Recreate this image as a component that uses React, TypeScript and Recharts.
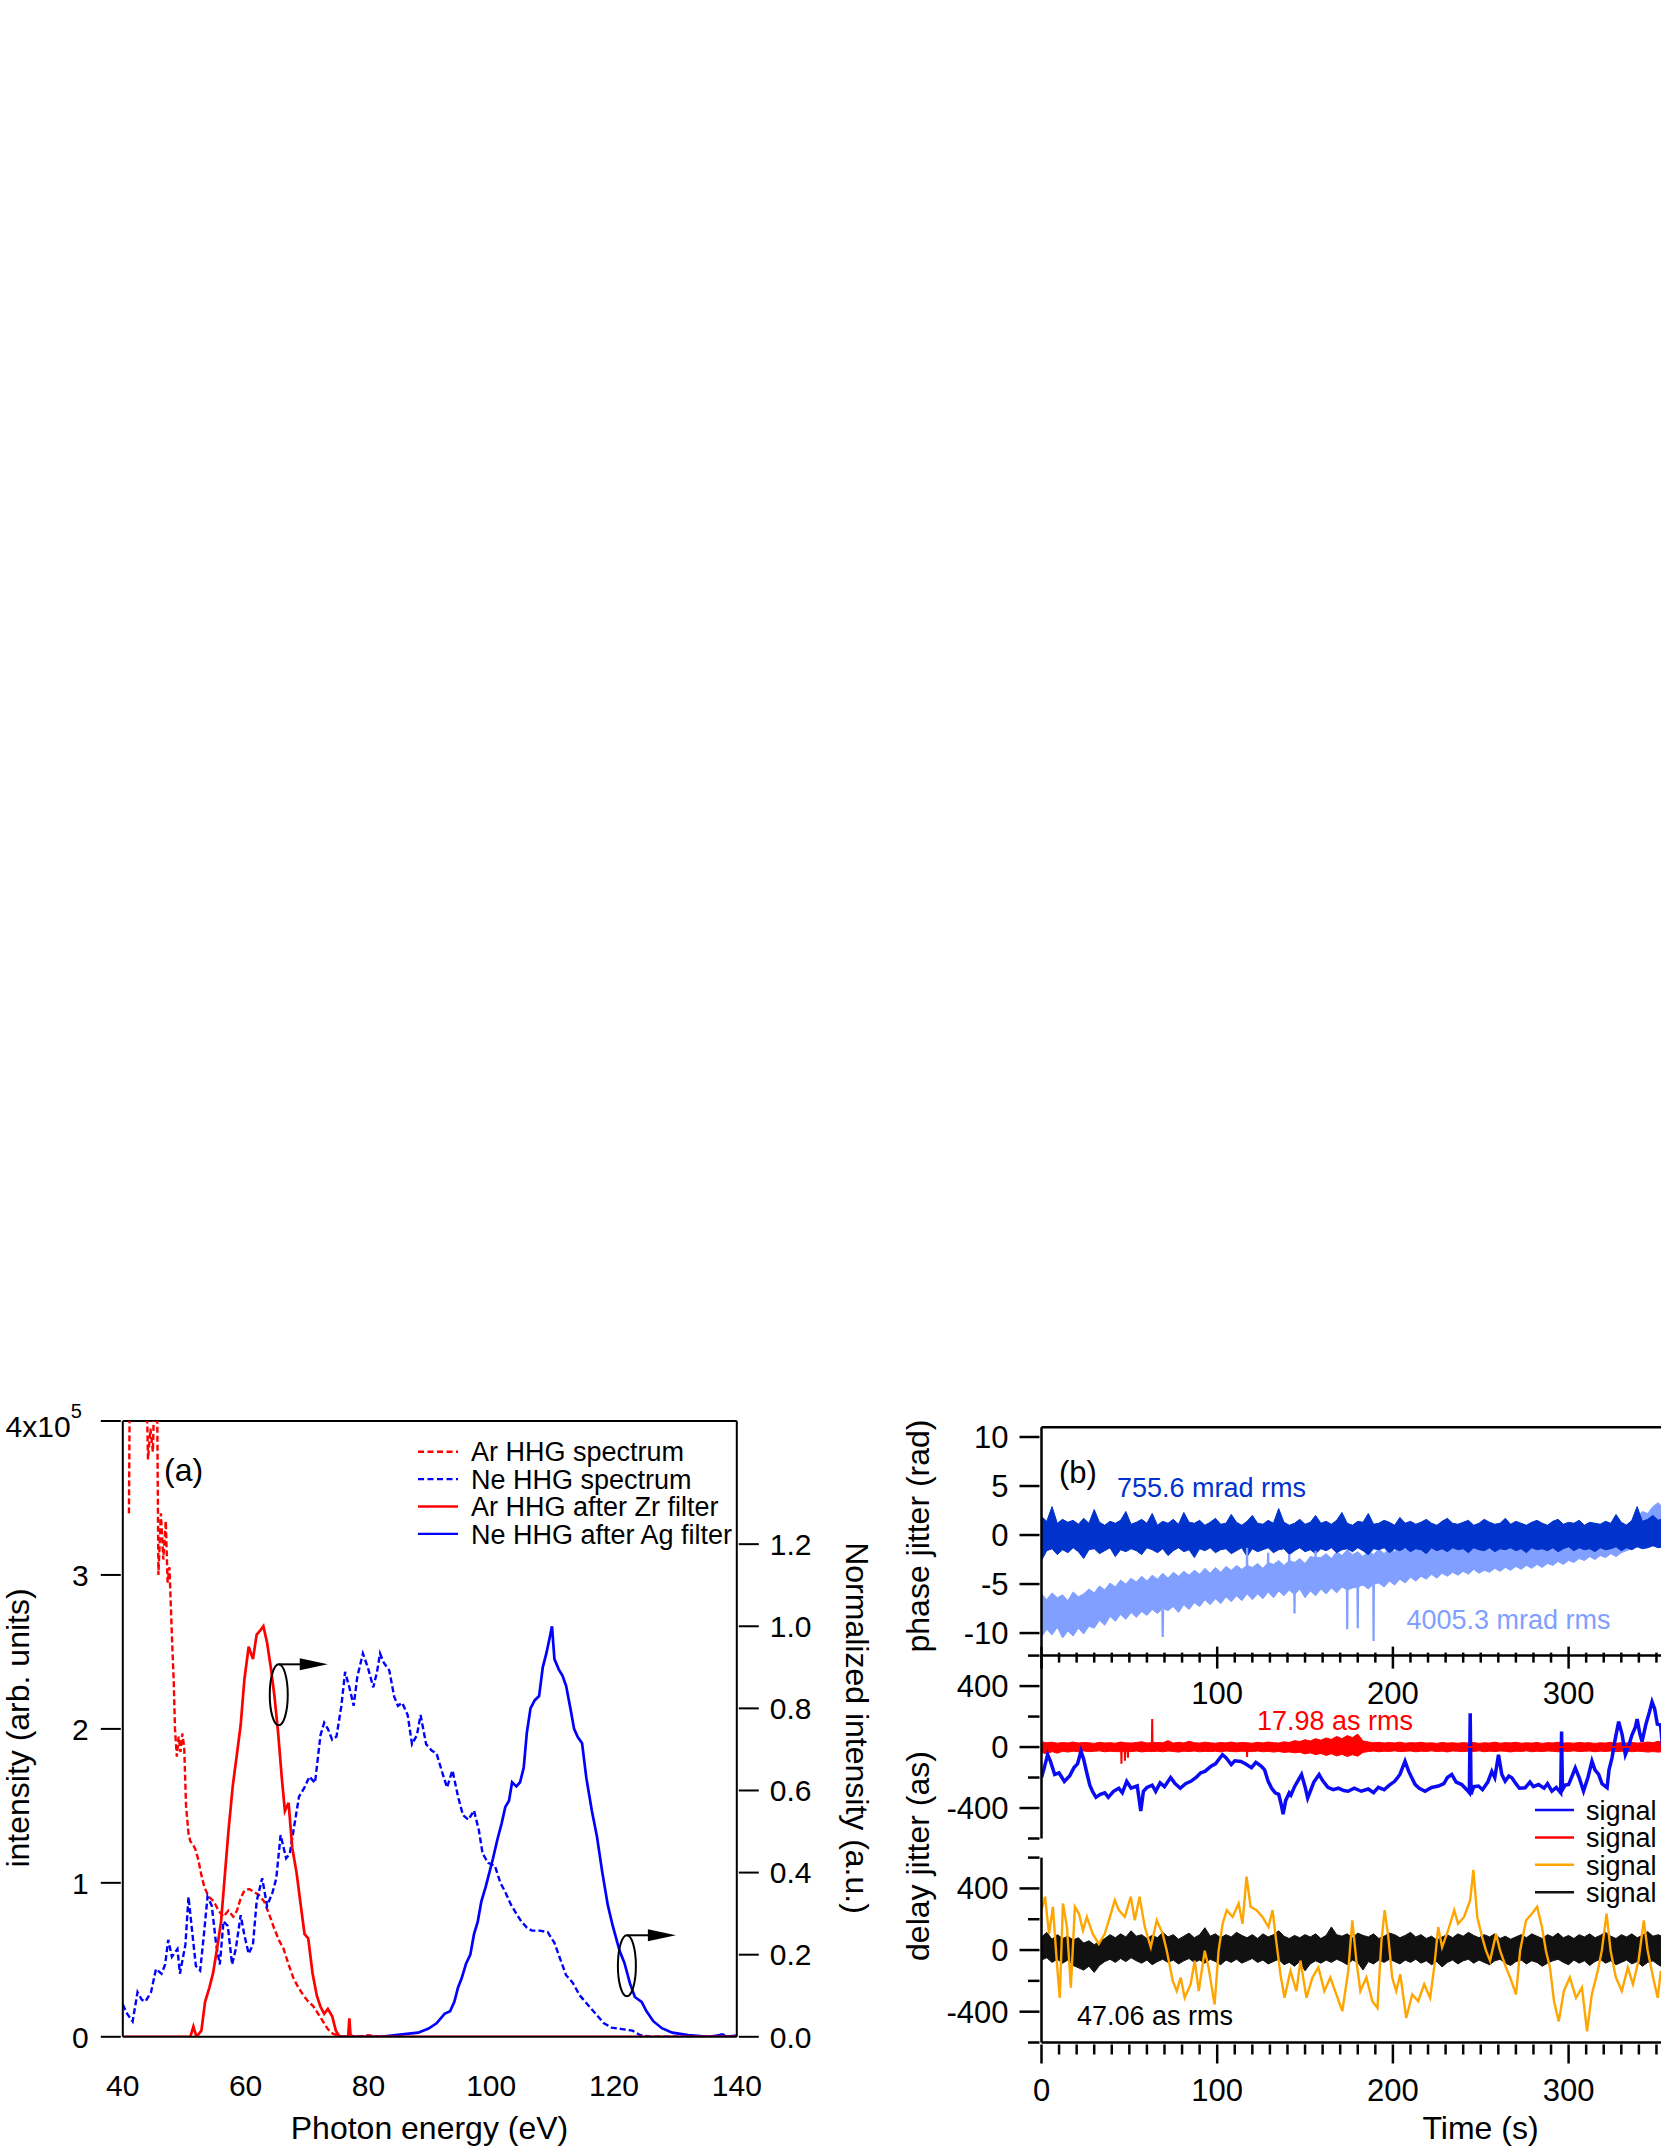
import React from 'react';
import { LineChart, Line, XAxis, YAxis, ComposedChart, Area, ReferenceLine, ReferenceDot } from 'recharts';

const FONT = '"Liberation Sans", Arial, Helvetica, sans-serif';

// ---------- panel (a): spectra, [photon energy eV, value] ----------
const energyTicks = [40, 60, 80, 100, 120, 140];
const intensityTicks = [0, 1, 2, 3, 4]; // x10^5
const normTicks = [0, 0.2, 0.4, 0.6, 0.8, 1.0, 1.2];

// left axis (x10^5 arb. units)
const arSpectrum: [number, number][] = [
  [41, 3.4], [41.2, 4.6], [42.5, 5.2], [43.8, 4.4], [44.1, 3.75], [44.5, 3.95], [44.9, 3.8], [45.2, 4.3],
  [45.6, 4.1], [45.8, 3.0], [46.2, 3.4], [46.6, 3.1], [47.0, 3.35], [47.3, 2.95], [47.6, 3.05], [48.0, 2.6],
  [48.3, 2.3], [48.5, 2.0], [48.8, 1.82], [49.1, 1.95], [49.4, 1.85], [49.7, 1.97], [50.0, 1.88], [50.3, 1.5],
  [50.7, 1.32], [51.0, 1.27], [51.4, 1.25], [51.8, 1.22], [52.3, 1.15], [52.8, 1.05], [53.3, 0.97], [54.0, 0.91],
  [54.8, 0.88], [55.6, 0.82], [56.4, 0.78], [57.2, 0.82], [58.0, 0.78], [58.6, 0.82], [59.2, 0.9], [59.8, 0.95],
  [60.6, 0.96], [61.4, 0.94], [62.2, 0.92], [63.0, 0.88], [63.8, 0.8], [64.6, 0.71], [65.4, 0.63], [66.2, 0.57],
  [67.0, 0.47], [67.8, 0.38], [68.6, 0.32], [69.4, 0.27], [70.2, 0.23], [71.0, 0.2], [71.8, 0.15], [72.6, 0.1],
  [73.4, 0.05], [74.2, 0.02], [75.0, 0.01], [76.0, 0.0], [77.0, 0.01], [78.0, 0.0], [80.0, 0.01], [82.0, 0.0],
];

const neSpectrum: [number, number][] = [
  [40, 0.21], [40.7, 0.15], [41.6, 0.1], [42.4, 0.29], [43.1, 0.24], [43.7, 0.23], [44.6, 0.29], [45.4, 0.44],
  [46.3, 0.41], [46.9, 0.47], [47.4, 0.63], [48, 0.52], [48.9, 0.57], [49.3, 0.41], [50.2, 0.6], [50.7, 0.91],
  [51.2, 0.72], [51.9, 0.46], [52.6, 0.43], [53.2, 0.66], [53.8, 0.91], [54.5, 0.85], [55.2, 0.6], [55.8, 0.47],
  [56.4, 0.75], [57.1, 0.72], [57.8, 0.47], [58.4, 0.57], [59.2, 0.79], [59.8, 0.66], [60.5, 0.54], [61.2, 0.6],
  [61.8, 0.88], [62.7, 1.03], [63.5, 0.85], [64.4, 0.94], [65, 1.03], [65.7, 1.31], [66.6, 1.16], [67.2, 1.19],
  [67.8, 1.34], [68.7, 1.56], [69.6, 1.62], [70.4, 1.69], [71.3, 1.65], [72.2, 1.96], [72.8, 2.04], [73.4, 2.0],
  [74.1, 1.93], [74.8, 1.95], [75.6, 2.15], [76.2, 2.37], [76.9, 2.27], [77.6, 2.15], [78.2, 2.34], [79.1, 2.49],
  [79.9, 2.4], [80.8, 2.27], [81.4, 2.37], [81.9, 2.49], [82.5, 2.43], [83.4, 2.38], [84.2, 2.21], [84.8, 2.15],
  [85.5, 2.17], [86.4, 2.09], [87.1, 1.9], [87.9, 1.96], [88.5, 2.09], [89.4, 1.9], [90.3, 1.86], [91.1, 1.84],
  [92, 1.72], [92.8, 1.62], [93.7, 1.73], [94.6, 1.56], [95.4, 1.44], [96.3, 1.41], [97.2, 1.47], [98, 1.34],
  [98.6, 1.19], [99.5, 1.13], [100.6, 1.11], [101.5, 1.0], [102.3, 0.94], [103.2, 0.86], [104.1, 0.8], [104.9, 0.75],
  [105.8, 0.71], [106.6, 0.69], [107.9, 0.69], [109.2, 0.68], [110.3, 0.61], [111.2, 0.51], [112.2, 0.4], [113.3, 0.35],
  [114.4, 0.27], [115.7, 0.21], [117, 0.15], [118.3, 0.09], [119.6, 0.06], [121.3, 0.05], [123, 0.04], [124.3, 0.01],
  [126, 0], [136, 0], [137.5, 0.015], [138.5, 0], [140, 0.005],
];

// right axis (normalized)
const arZrFilter: [number, number][] = [
  [40, 0], [51, 0], [51.5, 0.025], [52, 0.0], [52.8, 0.015], [53.4, 0.085], [54.1, 0.12], [54.7, 0.155],
  [55.3, 0.21], [56, 0.28], [56.6, 0.39], [57.2, 0.5], [57.9, 0.61], [58.6, 0.69], [59.2, 0.76], [59.8, 0.87],
  [60.5, 0.95], [61.2, 0.92], [61.8, 0.98], [62.4, 0.99], [62.9, 1.0], [63.5, 0.96], [64.1, 0.9], [64.7, 0.83],
  [65.3, 0.74], [65.9, 0.63], [66.4, 0.55], [67, 0.57], [67.6, 0.46], [68.3, 0.4], [68.9, 0.33], [69.6, 0.25],
  [70.2, 0.24], [70.9, 0.155], [71.6, 0.1], [72.2, 0.073], [72.8, 0.056], [73.4, 0.068], [74.1, 0.05], [74.7, 0.015],
  [75.3, 0], [76.7, 0], [76.9, 0.045], [77.1, 0], [140, 0],
];

const neAgFilter: [number, number][] = [
  [75, 0], [82, 0], [85.5, 0.006], [88.1, 0.01], [89.8, 0.02], [91.1, 0.033], [92.4, 0.056], [93.3, 0.062],
  [94, 0.085], [94.6, 0.12], [95.2, 0.143], [95.9, 0.178], [96.6, 0.2], [97.2, 0.25], [97.8, 0.28], [98.4, 0.33],
  [99.1, 0.365], [99.7, 0.4], [100.3, 0.435], [101, 0.48], [101.7, 0.52], [102.3, 0.56], [102.9, 0.575], [103.4, 0.62],
  [104.1, 0.61], [104.7, 0.62], [105.3, 0.656], [105.8, 0.74], [106.4, 0.8], [107.1, 0.82], [107.8, 0.83], [108.4, 0.9],
  [109, 0.935], [109.5, 0.97], [109.9, 1.0], [110.3, 0.92], [111, 0.895], [111.6, 0.88], [112.2, 0.855], [112.9, 0.8],
  [113.5, 0.75], [114.1, 0.73], [114.8, 0.715], [115.5, 0.63], [116.4, 0.55], [117.2, 0.49], [118.1, 0.4], [119, 0.32],
  [119.8, 0.27], [120.9, 0.21], [121.7, 0.18], [122.6, 0.13], [123.4, 0.097], [124.5, 0.085], [125.3, 0.062], [126.4, 0.038],
  [127.8, 0.021], [129.5, 0.01], [132.1, 0.004], [135.5, 0], [137.8, 0.005], [138.2, 0], [140, 0.003],
];

const legendA = [
  { name: 'Ar HHG spectrum', color: '#ff0000', dashed: true },
  { name: 'Ne HHG spectrum', color: '#0000ff', dashed: true },
  { name: 'Ar HHG after Zr filter', color: '#ff0000', dashed: false },
  { name: 'Ne HHG after Ag filter', color: '#0000ff', dashed: false },
];

// ---------- panel (b): jitter vs time ----------
const timeTicks = [0, 10, 20, 30, 40, 50, 60, 70, 80, 90, 100, 110, 120, 130, 140, 150, 160, 170, 180, 190, 200,
  210, 220, 230, 240, 250, 260, 270, 280, 290, 300, 310, 320, 330, 340, 350, 360, 370, 380, 390, 400];
const phaseTicks = [-10, -5, 0, 5, 10];
const delayTicks = [-600, -400, -200, 0, 200, 400, 600];

// noise bands sampled every 3 s (0..360 s): lower / upper envelope
const GRID_STEP = 3;

const darkHi = [
  1.9, 1.4, 2.9, 1.2, 1.6, 1.3, 1.5, 1.1, 1.7, 1.2,
  2.6, 1.3, 1.0, 1.4, 1.2, 1.5, 2.4, 1.1, 1.3, 1.6,
  1.2, 2.2, 1.0, 1.4, 1.2, 1.6, 1.1, 2.3, 1.3, 1.2,
  1.5, 1.0, 1.3, 1.7, 1.1, 1.2, 2.1, 1.3, 1.0, 1.4,
  2.0, 1.2, 1.1, 1.5, 1.2, 2.7, 1.3, 1.0, 1.2, 1.6,
  1.1, 1.3, 2.0, 1.2, 1.4, 1.1, 1.5, 2.3, 1.2, 1.0,
  1.4, 1.3, 2.2, 1.1, 1.2, 1.5, 1.3, 1.0, 1.8, 1.2,
  1.4, 1.1, 1.3, 1.6, 1.2, 1.0, 1.4, 1.7, 1.2, 1.1,
  1.3, 1.5, 1.0, 1.2, 1.6, 1.3, 1.1, 1.2, 1.7, 1.1,
  1.4, 1.2, 1.0, 1.3, 1.5, 1.2, 1.0, 1.4, 1.6, 1.1,
  1.3, 1.2, 1.5, 1.0, 1.3, 1.2, 1.1, 1.4, 1.2, 2.1,
  1.3, 1.0, 1.5, 2.9, 1.4, 1.6, 2.0, 1.5, 1.7, 1.4,
  1.6,
];
const darkLo = [
  -2.6, -1.6, -1.4, -2.0, -1.5, -1.8, -1.3, -1.7, -2.4, -1.5,
  -1.4, -1.9, -1.6, -1.3, -2.2, -1.5, -1.7, -1.4, -1.6, -2.0,
  -1.3, -1.5, -1.8, -1.4, -2.1, -1.6, -1.3, -1.7, -1.5, -2.3,
  -1.4, -1.6, -1.3, -1.8, -1.5, -1.4, -1.9, -1.6, -1.3, -2.2,
  -1.4, -1.7, -1.5, -1.3, -1.8, -1.5, -1.4, -2.0, -1.6, -1.3,
  -1.7, -1.5, -1.9, -1.4, -1.6, -1.3, -1.8, -1.5, -1.4, -1.7,
  -1.3, -1.6, -2.0, -1.4, -1.5, -1.3, -1.8, -1.4, -1.6, -1.3,
  -1.7, -1.4, -1.5, -1.9, -1.3, -1.6, -1.4, -1.7, -1.3, -1.5,
  -1.4, -1.8, -1.3, -1.5, -1.6, -1.3, -1.7, -1.4, -1.5, -1.3,
  -1.6, -1.4, -1.8, -1.3, -1.5, -1.4, -1.6, -1.3, -1.7, -1.4,
  -1.2, -1.6, -1.3, -1.5, -1.4, -1.7, -1.3, -1.5, -1.4, -1.2,
  -1.6, -1.3, -1.5, -1.2, -1.4, -1.3, -1.1, -1.3, -1.2, -3.2,
  -1.4,
];
const lightHi = [
  -6.0, -6.6, -5.9, -6.4, -6.1, -6.7, -5.8, -6.3, -6.0, -5.5,
  -5.9, -5.2, -5.6, -4.9, -5.3, -4.6, -5.0, -4.4, -4.8, -4.2,
  -4.7, -4.1, -4.5, -3.9, -4.4, -3.8, -4.2, -3.7, -4.1, -3.6,
  -4.0, -3.4, -3.9, -3.3, -3.8, -3.2, -3.6, -3.1, -3.5, -3.1,
  -3.3, -2.9, -3.4, -2.8, -3.0, -2.6, -3.1, -2.6, -2.8, -2.4,
  -2.9, -2.2, -2.3, -2.3, -1.9, -2.4, -1.7, -2.1, -1.5, -2.0,
  -1.7, -2.2, -1.6, -2.0, -1.4, -1.9, -1.3, -1.7, -1.1, -1.5,
  -1.0, -1.4, -0.8, -1.2, -0.7, -1.1, -0.6, -1.0, -0.5, -0.9,
  -0.4, -0.8, -0.5, -0.9, -0.4, -0.7, -0.3, -0.8, -0.4, -0.7,
  -0.2, -0.6, -0.3, -0.7, -0.2, -0.5, -0.1, -0.4, -0.2, -0.5,
  0.0, -0.3, -0.1, 0.2, -0.2, 0.3, 0.0, 0.4, 0.1, 0.6,
  0.6, 1.1, 1.4, 1.9, 2.4, 2.2, 2.9, 3.3, 2.7, 3.0,
  2.8,
];
const lightLo = [
  -10.4, -9.6, -10.2, -9.4, -10.5, -9.8, -10.3, -9.5, -10.1, -9.3,
  -9.5, -8.7, -9.2, -8.3, -8.8, -8.1, -8.6, -7.9, -8.4, -7.8,
  -8.2, -7.6, -8.0, -7.5, -7.7, -7.3, -7.9, -7.1, -7.6, -6.9,
  -7.3, -6.6, -7.1, -6.5, -7.0, -6.3, -6.8, -6.2, -6.7, -6.0,
  -6.6, -6.0, -6.5, -5.8, -6.4, -5.7, -6.2, -5.6, -6.1, -5.5,
  -6.4, -5.7, -6.2, -5.5, -6.0, -5.4, -5.9, -5.3, -5.6, -5.4,
  -5.3, -5.1, -5.5, -5.0, -4.9, -5.3, -4.7, -5.1, -4.5, -4.9,
  -4.3, -4.7, -4.2, -4.5, -4.0, -4.4, -3.9, -4.2, -3.8, -4.1,
  -3.7, -4.0, -3.5, -3.9, -3.6, -3.8, -3.4, -3.7, -3.3, -3.6,
  -3.2, -3.5, -3.1, -3.4, -3.0, -3.3, -2.9, -3.1, -2.7, -3.0,
  -2.6, -2.8, -2.4, -2.6, -2.2, -2.5, -2.1, -2.3, -1.9, -2.2,
  -1.8, -1.6, -1.4, -1.0, -0.6, -0.9, -0.2, 0.4, 0.1, 0.5,
  0.3,
];
// single-sample glitches of the light trace: [time s, phase rad]; null breaks the line
const lightGlitches: [number, number | null][] = [
  [68.8, -7.6], [69, -10.4], [69.2, -7.6], [69.3, null],
  [116.8, -4.2], [117, -1.3], [117.2, -4.2], [117.3, null],
  [128.8, -4.0], [129, -1.8], [129.2, -4.0], [129.3, null],
  [140.8, -3.8], [141, -2.0], [141.2, -3.8], [141.3, null],
  [143.8, -4.4], [144, -8.0], [144.2, -4.4], [144.3, null],
  [155.8, -3.6], [156, -1.6], [156.2, -3.6], [156.3, null],
  [173.8, -4.0], [174, -9.6], [174.2, -4.0], [174.3, null],
  [179.8, -3.8], [180, -9.5], [180.2, -3.8], [180.3, null],
  [188.8, -3.4], [189, -10.8], [189.2, -3.4],
];

const redHi = [
  35, 28, 32, 25, 30, 27, 33, 26, 30, 28,
  24, 31, 27, 29, 25, 33, 28, 26, 30, 35,
  27, 29, 30, 28, 42, 26, 31, 27, 38, 29,
  26, 32, 28, 25, 30, 27, 33, 26, 30, 28,
  25, 31, 27, 33, 29, 26, 34, 30, 42, 36,
  48, 40, 55, 45, 60, 50, 70, 55, 75, 62,
  85, 40, 33, 28, 31, 26, 30, 27, 32, 25,
  29, 27, 31, 26, 28, 24, 30, 26, 28, 25,
  29, 26, 30, 24, 28, 26, 32, 25, 29, 27,
  31, 25, 28, 26, 30, 24, 29, 27, 31, 26,
  28, 25, 30, 27, 29, 24, 28, 26, 31, 25,
  29, 27, 30, 26, 28, 33, 29, 38, 32, 30,
  34,
];
const redLo = [
  -35, -45, -30, -40, -28, -33, -27, -31, -26, -30,
  -28, -25, -31, -27, -30, -30, -27, -30, -26, -32,
  -28, -30, -27, -31, -26, -29, -33, -27, -30, -26,
  -31, -28, -30, -27, -32, -26, -29, -31, -27, -29,
  -30, -26, -31, -28, -33, -29, -35, -32, -38, -34,
  -45, -38, -50, -42, -55, -44, -58, -48, -62, -50,
  -60, -35, -30, -26, -31, -27, -29, -25, -30, -28,
  -26, -31, -27, -29, -25, -30, -27, -32, -26, -28,
  -30, -27, -29, -25, -31, -27, -30, -26, -28, -32,
  -27, -29, -25, -31, -27, -30, -26, -28, -31, -27,
  -29, -25, -30, -28, -26, -31, -27, -29, -26, -30,
  -28, -25, -31, -27, -29, -33, -30, -33, -30, -40,
  -35,
];
// single-sample glitches of the red trace: [time s, delay as]
const redGlitches: [number, number][] = [
  [45.3, 0], [45.5, -110], [45.7, 0], [47.3, 0], [47.5, -90], [47.7, 0], [49.0, 0], [49.2, -70], [49.4, 0],
  [62.8, 0], [63, 184], [63.2, 0], [116.8, 0], [117, -65], [117.2, 0], [353.8, 0], [354, -110], [354.2, 0],
];

const blackHi = [
  85, 115, 70, 100, 75, 90, 65, 80, 45, 60,
  35, 55, 75, 100, 80, 105, 85, 125, 90, 100,
  75, 95, 80, 115, 85, 100, 70, 90, 110, 80,
  100, 145, 90, 105, 80, 100, 85, 115, 95, 80,
  100, 75, 105, 85, 100, 125, 90, 75, 95, 80,
  100, 85, 105, 75, 95, 150, 100, 90, 105, 80,
  110, 95, 85, 105, 75, 90, 110, 100, 80, 95,
  115, 85, 100, 75, 90, 65, 85, 100, 80, 105,
  90, 115, 95, 80, 100, 85, 105, 75, 90, 70,
  85, 100, 80, 105, 90, 75, 100, 85, 110, 80,
  95, 75, 100, 85, 105, 80, 95, 115, 90, 75,
  100, 85, 105, 80, 95, 120, 90, 100, 85, 105,
  90,
];
const blackLo = [
  -65, -50, -80, -60, -85, -65, -100, -115, -130, -105,
  -145, -100, -75, -60, -80, -55, -75, -50, -70, -85,
  -65, -95, -75, -60, -80, -65, -90, -70, -55, -80,
  -65, -85, -60, -75, -95, -65, -80, -60, -85, -70,
  -55, -80, -65, -90, -75, -60, -95, -80, -105, -75,
  -135, -90, -70, -85, -65, -80, -60, -75, -95, -65,
  -80, -130, -75, -90, -65, -80, -60, -75, -90, -65,
  -80, -60, -85, -70, -95, -75, -110, -80, -65, -90,
  -70, -60, -85, -65, -80, -95, -70, -60, -85, -100,
  -75, -65, -90, -70, -80, -105, -85, -70, -60, -80,
  -95, -65, -85, -70, -100, -75, -60, -85, -70, -95,
  -80, -65, -90, -75, -105, -80, -70, -95, -115, -85,
  -75,
];

// [time s, delay as]
const blueDelay: [number, number][] = [
  [0, -200], [1.5, -140], [3.5, -50], [5, -90], [7.5, -180], [10, -170], [13, -225], [16, -190], [18.5, -135],
  [20.5, -110], [22.5, -28], [24, -80], [26, -180], [27.5, -250], [29, -290], [31, -330], [33.5, -310], [36, -300],
  [38, -330], [41, -290], [44, -270], [46, -300], [48.5, -225], [51, -270], [54.5, -255], [56.5, -420], [58, -290],
  [60, -265], [63, -250], [65, -290], [67.5, -235], [70, -260], [73.5, -200], [76, -240], [79, -270], [82, -240],
  [85, -225], [88, -200], [90.5, -170], [93, -160], [96.5, -125], [99, -110], [101, -80], [103, -50], [105, -70],
  [108, -115], [110, -90], [113.5, -95], [116, -110], [119.5, -135], [122, -100], [125, -125], [127, -150],
  [129, -225], [131, -270], [133, -300], [135, -310], [136.5, -380], [137.5, -440], [139, -350], [141, -300],
  [142, -315], [144, -260], [146, -220], [148, -180], [150, -260], [151.5, -335], [153, -290], [155, -230],
  [158, -180], [160, -220], [163, -265], [166, -280], [169, -270], [172, -285], [174.5, -290], [178, -270],
  [182, -290], [186, -275], [189, -300], [191.7, -265], [195, -280], [198, -250], [201, -225], [204, -180],
  [206.9, -93], [209, -160], [212.6, -245], [215, -270], [218.3, -290], [222, -265], [225.9, -256], [229, -240],
  [231, -200], [233.5, -180], [236, -230], [239.2, -246], [242, -280], [243.5, -300], [244, 221], [244.5, -310],
  [246, -260], [248.7, -256], [251, -280], [254, -230], [256.3, -160], [258, -200], [260.1, -50], [262, -180],
  [263.9, -224], [266, -190], [267.7, -202], [270, -240], [272, -270], [275.3, -267], [278, -230], [280, -260],
  [282.9, -246], [286, -270], [288, -240], [290.5, -289], [293, -265], [295.5, -300], [296, 102], [296.5, -280],
  [298, -250], [300, -246], [302, -190], [303.8, -137], [306, -200], [308.5, -289], [311, -200], [313.3, -93],
  [315, -150], [317.1, -180], [319, -240], [321.9, -267], [323, -150], [324.7, -71], [326.5, 50], [328.5, 167],
  [330.5, 80], [332.3, -50], [334, 0], [336.1, 80], [338, 130], [339, 184], [340.5, 90], [341.8, 36], [344, 150],
  [346, 230], [347.5, 297], [349, 250], [350.5, 150], [352.3, 145], [354, -60], [356, -150], [358, -120], [360, -100],
];

const orangeDelay: [number, number][] = [
  [0, 259], [2, 346], [4.3, 105], [6.5, 281], [8.8, -91], [10.4, -310], [12.2, 302], [14.5, 149], [16.7, -244],
  [19, 281], [21.3, 237], [23.6, 127], [25.8, 215], [29.2, 105], [32.6, 40], [36, 105], [39.5, 237], [41.7, 324],
  [44, 259], [47.4, 215], [50.8, 346], [53.1, 193], [55.8, 346], [58.8, 149], [62.2, 18], [65.6, 193], [69, 105],
  [71.3, -4], [74.7, -200], [77, -266], [79.2, -178], [81.5, -310], [84.9, -222], [87.2, -69], [89.5, -266],
  [92.9, -4], [95.1, -113], [98.5, -354], [100.8, -4], [103.1, 171], [105.4, 259], [108.8, 215], [112.2, 302],
  [114.4, 171], [116.7, 477], [119, 281], [122.4, 259], [125.8, 215], [129.2, 149], [131.5, 259], [133.8, 40],
  [136, -157], [138.3, -310], [141.7, -135], [145.1, -266], [147.4, -69], [150.8, -310], [154.2, -178],
  [157.6, -113], [161, -266], [164.4, -178], [167.8, -288], [171.2, -397], [174.6, -135], [176.9, 193],
  [179.2, -69], [181.5, -266], [184.9, -178], [188.3, -332], [191.2, -376], [193.5, 62], [195.3, 259], [197.4, 84],
  [199.6, -178], [201.9, -266], [204.2, -157], [207.6, -441], [211, -288], [214.4, -332], [217.8, -222],
  [221.2, -310], [223.5, -113], [225.8, 149], [228, 18], [231.4, 127], [234.9, 259], [237.1, 171], [240.5, 215],
  [244, 324], [245.8, 521], [248, 215], [250.8, 84], [253, -4], [255.3, -69], [258.7, 105], [261, -4], [264.4, -113],
  [266.7, -178], [270.1, -288], [272.4, -4], [275.8, 193], [279.2, 237], [282.1, 281], [284.8, 149], [287.1, -4],
  [289.4, -113], [291.7, -332], [294.4, -463], [297.3, -266], [300.7, -178], [304.2, -310], [307.6, -244],
  [310.5, -528], [313.2, -288], [316.6, -135], [318.9, -4], [321.6, 237], [323.9, -4], [326.9, -178], [330.3, -266],
  [333.7, -113], [336.6, -222], [339.8, -69], [342.8, 193], [345, -4], [348.5, -200], [350.7, -310], [352.5, -135],
  [355, -250], [358, -100], [360, -180],
];

const legendB = [
  { name: 'signal', color: '#0a0af5' },
  { name: 'signal', color: '#ff0000' },
  { name: 'signal', color: '#ffa500' },
  { name: 'signal', color: '#111111' },
];

// build series for recharts
const toXY = (pts: [number, number][]) => pts.map(([x, y]) => ({ x, y }));
const toTV = (pts: [number, number | null][]) => pts.map(([t, v]) => ({ t, v }));

const phaseData = darkHi.map((h, i) => ({
  t: i * GRID_STEP,
  dark: [darkLo[i], h],
  light: [lightLo[i], lightHi[i]],
}));
const redData = redHi.map((h, i) => ({ t: i * GRID_STEP, red: [redLo[i], h] }));
const blackData = blackHi.map((h, i) => ({ t: i * GRID_STEP, black: [blackLo[i], h] }));

// ---------- tick renderers ----------
const txt = (size: number) => ({ fontFamily: FONT, fontSize: size, fill: '#000' });

function IntensityTick({ x, y, payload }: any) {
  const v = payload.value;
  return (
    <g>
      <line x1={x - 20} x2={x} y1={y} y2={y} stroke="#000" strokeWidth={2} />
      {v === 4 ? (
        <text x={x - 39} y={y + 16} textAnchor="end" {...txt(30)}>
          4x10<tspan dy={-19} fontSize={20}>5</tspan>
        </text>
      ) : (
        <text x={x - 32} y={y + 10.8} textAnchor="end" {...txt(30)}>{v}</text>
      )}
    </g>
  );
}

function NormTick({ x, y, payload }: any) {
  return (
    <g>
      <line x1={x} x2={x + 20} y1={y} y2={y} stroke="#000" strokeWidth={2} />
      <text x={x + 31} y={y + 10.8} textAnchor="start" {...txt(30)}>{payload.value.toFixed(1)}</text>
    </g>
  );
}

function EnergyTick({ x, y, payload }: any) {
  return (
    <text x={x} y={y + 57} textAnchor="middle" {...txt(30)}>{payload.value}</text>
  );
}

function PhaseTick({ x, y, payload }: any) {
  return (
    <g>
      <line x1={x - 20} x2={x} y1={y} y2={y} stroke="#000" strokeWidth={2.5} />
      <text x={x - 31} y={y + 11} textAnchor="end" {...txt(31)}>{payload.value}</text>
    </g>
  );
}

function DelayTick({ x, y, payload }: any) {
  const v = payload.value;
  const major = v === -400 || v === 0 || v === 400;
  return (
    <g>
      <line x1={x - (major ? 20 : 11.5)} x2={x} y1={y} y2={y} stroke="#000" strokeWidth={2.5} />
      {major && (
        <text x={x - 31} y={y + 11} textAnchor="end" {...txt(31)}>{v}</text>
      )}
    </g>
  );
}

function DividerTimeTick({ x, y, payload }: any) {
  const v = payload.value;
  const major = v % 100 === 0;
  const h = major ? 11 : 5;
  return (
    <g>
      <line x1={x} x2={x} y1={y - h} y2={y + h} stroke="#000" strokeWidth={2.5} />
      {major && v > 0 && v < 400 && (
        <text x={x} y={y + 46} textAnchor="middle" {...txt(31)}>{v}</text>
      )}
    </g>
  );
}

function TimeTick({ x, y, payload }: any) {
  const v = payload.value;
  const major = v % 100 === 0;
  return (
    <g>
      <line x1={x} x2={x} y1={y} y2={y + (major ? 19 : 10)} stroke="#000" strokeWidth={2.5} />
      {major && v < 400 && (
        <text x={x} y={y + 56} textAnchor="middle" {...txt(31)}>{v}</text>
      )}
    </g>
  );
}

// ellipse + arrow marking which axis a curve belongs to
function AxisMarker({ cx, cy }: any) {
  const ry = 30.5;
  const top = cy - ry;
  return (
    <g>
      <ellipse cx={cx} cy={cy} rx={9} ry={ry} fill="none" stroke="#000" strokeWidth={2} />
      <line x1={cx} x2={cx + 22} y1={top} y2={top} stroke="#000" strokeWidth={2} />
      <polygon points={`${cx + 21},${top - 6} ${cx + 49},${top} ${cx + 21},${top + 6}`} fill="#000" />
    </g>
  );
}

const axisStroke = { stroke: '#000', strokeWidth: 2 };
const axisStrokeB = { stroke: '#000', strokeWidth: 2.5 };

export default function App() {
  return (
    <div style={{ position: 'absolute', left: 0, top: 0, width: 1661, height: 2149, overflow: 'hidden', background: '#fff' }}>
      {/* panel (a) */}
      <div style={{ position: 'absolute', left: 0, top: 1380 }}>
        <LineChart width={830} height={769} margin={{ top: 41, right: 3.2, bottom: 32.2, left: 22.8 }}>
          <XAxis dataKey="x" type="number" domain={[40, 140]} ticks={energyTicks} interval={0}
            tickSize={0} tickLine={false} tick={EnergyTick} axisLine={axisStroke} height={80} allowDataOverflow />
          <YAxis yAxisId="left" type="number" domain={[0, 4]} ticks={intensityTicks} interval={0}
            tickSize={0} tickLine={false} tick={IntensityTick} axisLine={axisStroke} width={100} allowDataOverflow />
          <YAxis yAxisId="right" orientation="right" type="number" domain={[0, 1.5]} ticks={normTicks} interval={0}
            tickSize={0} tickLine={false} tick={NormTick} axisLine={axisStroke} width={90} allowDataOverflow />
          <ReferenceLine yAxisId="left" y={4} stroke="#000" strokeWidth={2} />
          <Line yAxisId="left" data={toXY(arSpectrum)} dataKey="y" type="linear" stroke="#ff0000" strokeWidth={2.4}
            strokeDasharray="6 3" dot={false} activeDot={false} isAnimationActive={false} />
          <Line yAxisId="left" data={toXY(neSpectrum)} dataKey="y" type="linear" stroke="#0000ff" strokeWidth={2.4}
            strokeDasharray="6 3" dot={false} activeDot={false} isAnimationActive={false} />
          <Line yAxisId="right" data={toXY(neAgFilter)} dataKey="y" type="linear" stroke="#0000ff" strokeWidth={2.7}
            dot={false} activeDot={false} isAnimationActive={false} />
          <Line yAxisId="right" data={toXY(arZrFilter)} dataKey="y" type="linear" stroke="#ff0000" strokeWidth={2.7}
            dot={false} activeDot={false} isAnimationActive={false} />
          <ReferenceDot yAxisId="right" x={65.4} y={0.833} r={0} shape={AxisMarker} />
          <ReferenceDot yAxisId="right" x={122.1} y={0.173} r={0} shape={AxisMarker} />
        </LineChart>
      </div>

      {/* panel (b) top: phase jitter */}
      <div style={{ position: 'absolute', left: 940, top: 1400 }}>
        <ComposedChart width={830} height={320} data={phaseData}
          margin={{ top: 27.2, right: 25.7, bottom: 4.4, left: 31.5 }}>
          <XAxis dataKey="t" type="number" domain={[0, 400]} ticks={timeTicks} interval={0}
            tickSize={0} tickLine={false} tick={DividerTimeTick} axisLine={axisStrokeB} height={60} allowDataOverflow />
          <YAxis type="number" domain={[-12.3, 11]} ticks={phaseTicks} interval={0}
            tickSize={0} tickLine={false} tick={PhaseTick} axisLine={axisStrokeB} width={70} allowDataOverflow />
          <ReferenceLine y={11} stroke="#000" strokeWidth={2.5} />
          <Area dataKey="light" type="linear" stroke="#809fff" strokeWidth={1} fill="#809fff" fillOpacity={1}
            dot={false} activeDot={false} isAnimationActive={false} />
          <Line data={toTV(lightGlitches)} dataKey="v" type="linear" stroke="#809fff" strokeWidth={2.2}
            connectNulls={false} dot={false} activeDot={false} isAnimationActive={false} />
          <Area dataKey="dark" type="linear" stroke="#0033cc" strokeWidth={1} fill="#0033cc" fillOpacity={1}
            dot={false} activeDot={false} isAnimationActive={false} />
        </ComposedChart>
      </div>

      {/* panel (b) middle: delay jitter */}
      <div style={{ position: 'absolute', left: 940, top: 1640 }}>
        <ComposedChart width={830} height={220} data={redData}
          margin={{ top: 15.6, right: 25.7, bottom: 21.5, left: 31.5 }}>
          <XAxis dataKey="t" type="number" domain={[0, 400]} hide allowDataOverflow />
          <YAxis type="number" domain={[-600, 600]} ticks={delayTicks} interval={0}
            tickSize={0} tickLine={false} tick={DelayTick} axisLine={axisStrokeB} width={70} allowDataOverflow />
          <Line data={toTV(blueDelay)} dataKey="v" type="linear" stroke="#0a0af5" strokeWidth={3.5}
            dot={false} activeDot={false} isAnimationActive={false} />
          <Area dataKey="red" type="linear" stroke="#ff0000" strokeWidth={1} fill="#ff0000" fillOpacity={1}
            dot={false} activeDot={false} isAnimationActive={false} />
          <Line data={toTV(redGlitches)} dataKey="v" type="linear" stroke="#ff0000" strokeWidth={2}
            dot={false} activeDot={false} isAnimationActive={false} />
        </ComposedChart>
      </div>

      {/* panel (b) bottom: delay jitter */}
      <div style={{ position: 'absolute', left: 940, top: 1840 }}>
        <ComposedChart width={830} height={309} data={blackData}
          margin={{ top: 17.6, right: 25.7, bottom: 26.5, left: 31.5 }}>
          <XAxis dataKey="t" type="number" domain={[0, 400]} ticks={timeTicks} interval={0}
            tickSize={0} tickLine={false} tick={TimeTick} axisLine={axisStrokeB} height={80} allowDataOverflow />
          <YAxis type="number" domain={[-600, 600]} ticks={delayTicks} interval={0}
            tickSize={0} tickLine={false} tick={DelayTick} axisLine={axisStrokeB} width={70} allowDataOverflow />
          <Line data={toTV(orangeDelay)} dataKey="v" type="linear" stroke="#ffa500" strokeWidth={2.4}
            dot={false} activeDot={false} isAnimationActive={false} />
          <Area dataKey="black" type="linear" stroke="#111111" strokeWidth={1} fill="#111111" fillOpacity={1}
            dot={false} activeDot={false} isAnimationActive={false} />
        </ComposedChart>
      </div>

      {/* titles, annotations and legends */}
      <svg width={1661} height={2149} style={{ position: 'absolute', left: 0, top: 0, pointerEvents: 'none' }}>
        <text x={164} y={1481} {...txt(32)}>(a)</text>
        {legendA.map((d, i) => (
          <g key={d.name}>
            <line x1={418} x2={458} y1={1451.7 + i * 27.4} y2={1451.7 + i * 27.4} stroke={d.color} strokeWidth={2.4}
              strokeDasharray={d.dashed ? '6 3.5' : undefined} />
            <text x={471} y={1461.4 + i * 27.4} {...txt(27)}>{d.name}</text>
          </g>
        ))}
        <text transform="translate(29,1728) rotate(-90)" textAnchor="middle" {...txt(32)}>intensity (arb. units)</text>
        <text transform="translate(846,1728) rotate(90)" textAnchor="middle" {...txt(32)}>Normalized intensity (a.u.)</text>
        <text x={429.5} y={2139} textAnchor="middle" {...txt(32)}>Photon energy (eV)</text>

        <text x={1059} y={1483} {...txt(31)}>(b)</text>
        <text x={1117} y={1497} {...txt(27)} fill="#0033cc">755.6 mrad rms</text>
        <text x={1406.5} y={1629} {...txt(27)} fill="#809fff">4005.3 mrad rms</text>
        <text x={1257} y={1730} {...txt(27)} fill="#ff0000">17.98 as rms</text>
        <text x={1077} y={2025} {...txt(27)}>47.06 as rms</text>
        <text transform="translate(929,1536) rotate(-90)" textAnchor="middle" {...txt(32)}>phase jitter (rad)</text>
        <text transform="translate(929,1856) rotate(-90)" textAnchor="middle" {...txt(32)}>delay jitter (as)</text>
        <text x={1480.5} y={2139} textAnchor="middle" {...txt(32)}>Time (s)</text>
        {legendB.map((d, i) => (
          <g key={i}>
            <line x1={1535} x2={1574} y1={1810 + i * 27.4} y2={1810 + i * 27.4} stroke={d.color} strokeWidth={2.5} />
            <text x={1586} y={1819.7 + i * 27.4} {...txt(27)}>{d.name}</text>
          </g>
        ))}
      </svg>
    </div>
  );
}
